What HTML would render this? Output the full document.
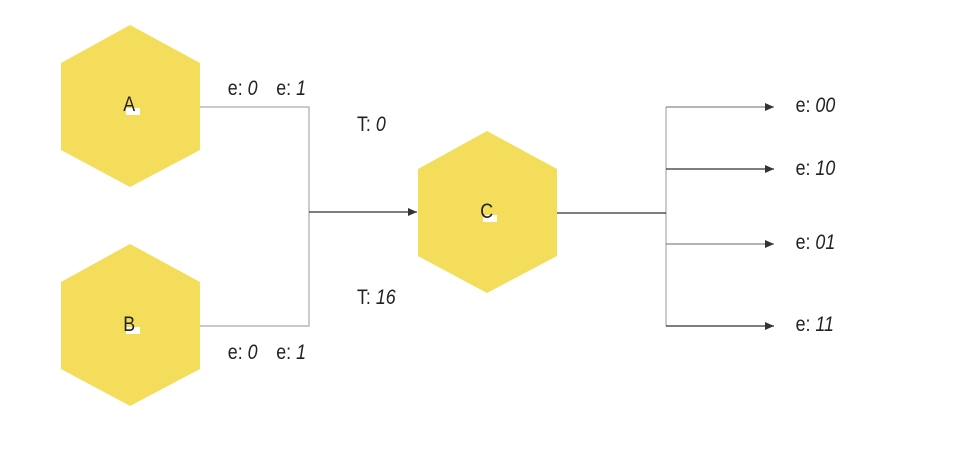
<!DOCTYPE html>
<html><head><style>
html,body{margin:0;padding:0;background:#fff}
svg text{font-family:"Liberation Sans",sans-serif;font-size:21px;fill:#222}
.i{font-style:italic}
</style></head><body>
<svg width="977" height="456" viewBox="0 0 977 456" xmlns="http://www.w3.org/2000/svg">
<defs><marker id="ah" markerWidth="10" markerHeight="8" refX="9" refY="4" orient="auto" markerUnits="userSpaceOnUse"><path d="M0,0 L9,4 L0,8 z" fill="#333"/></marker></defs>
<g fill="#f3dd5a">
<polygon points="130,25 200,63 200,150 130,187 61,150 61,63"/>
<polygon points="130,244 200,282 200,369 130,406 61,369 61,282"/>
<polygon points="487,131 557,169 557,256 487,293 418,256 418,169"/>
</g>
<g fill="#fff"><rect x="126" y="108" width="14" height="7"/><rect x="126" y="327" width="14" height="7"/><rect x="483" y="215" width="14" height="7"/></g>
<g fill="none" stroke="#aaa" stroke-width="1.2">
<polyline points="200,107 309,107 309,326 200,326"/>
<line x1="666" y1="107" x2="666" y2="326"/>
</g>
<g stroke="#333" stroke-width="1.2">
<line x1="309" y1="212" x2="417" y2="212" marker-end="url(#ah)"/>
<line x1="557" y1="213" x2="666" y2="213"/>
<line x1="666" y1="107" x2="774" y2="107" marker-end="url(#ah)" stroke="#888"/>
<line x1="666" y1="169" x2="774" y2="169" marker-end="url(#ah)"/>
<line x1="666" y1="244" x2="774" y2="244" marker-end="url(#ah)" stroke="#888"/>
<line x1="666" y1="326" x2="774" y2="326" marker-end="url(#ah)"/>
</g>
<g transform="scale(0.85,1)">
<text x="145" y="111" style="font-size:21px">A</text>
<text x="145" y="331" style="font-size:21px">B</text>
<text x="565" y="218" style="font-size:21px">C</text>
<text x="268" y="95">e: <tspan class="i">0</tspan></text><text x="325" y="95">e: <tspan class="i">1</tspan></text>
<text x="268" y="359">e: <tspan class="i">0</tspan></text><text x="325" y="359">e: <tspan class="i">1</tspan></text>
<text x="420" y="131">T: <tspan class="i">0</tspan></text>
<text x="420" y="304">T: <tspan class="i">16</tspan></text>
<text x="936" y="112">e: <tspan class="i">00</tspan></text>
<text x="936" y="175">e: <tspan class="i">10</tspan></text>
<text x="936" y="249">e: <tspan class="i">01</tspan></text>
<text x="936" y="331">e: <tspan class="i">11</tspan></text>
</g>
</svg>
</body></html>
